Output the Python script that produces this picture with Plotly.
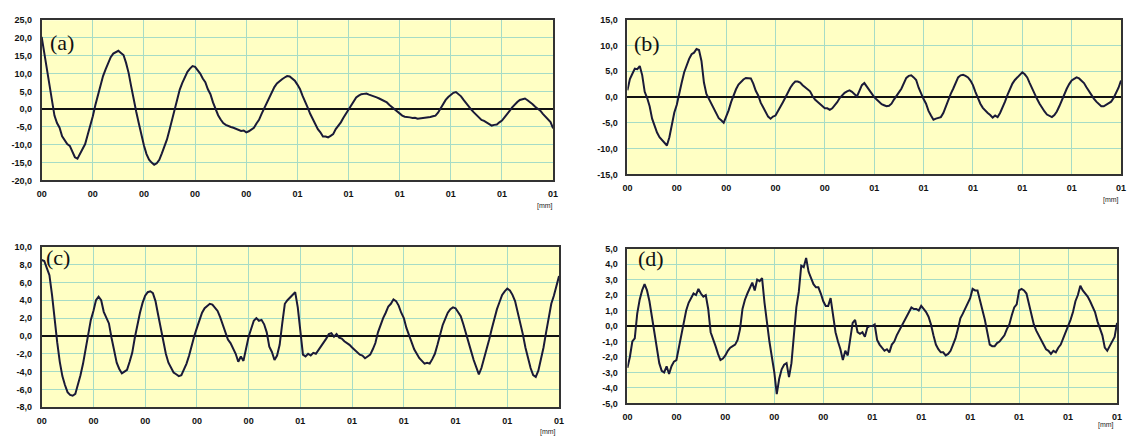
import plotly.graph_objects as go

# x positions in grid units (0..10, step 0.05)
x_pos = [i / 20 for i in range(201)]

y_a = [20.3, 16.0, 11.5, 6.5, 2.0, -1.8, -3.9, -5.2, -7.6, -8.6,
       -9.8, -10.3, -12.0, -13.5, -13.9, -12.5, -11.4, -9.8, -7.2, -4.8,
       -2.0, 1.2, 4.2, 6.6, 9.3, 11.2, 12.9, 14.6, 15.6, 15.9,
       16.4, 15.8, 15.2, 13.0, 10.2, 6.4, 2.5, -0.8, -4.0, -7.4,
       -10.2, -12.6, -14.2, -15.0, -15.6, -15.2, -14.2, -12.4, -10.6, -8.5,
       -5.8, -2.9, 0.0, 3.2, 5.5, 7.4, 8.9, 10.5, 11.4, 12.1,
       11.9, 11.0, 10.0, 8.6, 7.6, 5.6, 4.2, 1.9, 0.0, -1.7,
       -2.9, -3.9, -4.4, -4.8, -5.0, -5.2, -5.5, -5.6, -6.1, -6.0,
       -6.5, -6.2, -5.6, -5.2, -4.0, -3.0, -1.3, 0.2, 1.6, 3.3,
       4.8, 6.2, 7.2, 7.9, 8.4, 8.9, 9.3, 9.2, 8.6, 8.0,
       6.9, 5.7, 3.8, 2.3, 0.5, -1.3, -2.8, -4.2, -5.6, -6.5,
       -7.7, -7.7, -7.9, -7.5, -7.0, -5.6, -4.8, -3.7, -2.4, -1.3,
       -0.1, 1.0, 2.2, 3.3, 3.8, 4.2, 4.3, 4.4, 4.1, 3.9,
       3.5, 3.3, 3.0, 2.6, 2.2, 1.9, 1.2, 0.6, -0.1, -0.6,
       -1.4, -1.8, -2.1, -2.1, -2.3, -2.5, -2.4, -2.7, -2.6, -2.7,
       -2.4, -2.5, -2.2, -2.0, -1.8, -1.0, 0.3, 1.6, 2.6, 3.4,
       4.0, 4.6, 4.8, 4.2, 3.6, 2.6, 1.6, 0.8, -0.1, -0.9,
       -1.6, -2.5, -3.0, -3.3, -3.8, -4.3, -4.6, -4.4, -4.3, -3.7,
       -3.2, -2.3, -1.5, -0.5, 0.5, 1.4, 2.0, 2.6, 2.8, 3.0,
       2.5, 2.0, 1.4, 0.7, 0.2, -0.4, -1.3, -2.1, -3.0, -3.6,
       -5.4]

y_b = [1.3, 3.5, 4.5, 5.5, 5.4, 6.0, 4.2, 1.0, -0.2, -1.8,
       -4.2, -5.6, -6.9, -7.8, -8.4, -9.0, -9.4, -7.8, -5.4, -3.0,
       -1.5, 0.4, 2.8, 4.8, 6.2, 7.4, 8.3, 8.6, 9.3, 9.1,
       7.0, 2.8, 0.6, -0.4, -1.2, -2.3, -3.2, -4.1, -4.5, -5.0,
       -3.8, -2.6, -1.0, 0.4, 1.5, 2.4, 3.0, 3.4, 3.7, 3.6,
       3.6, 2.6, 1.2, 0.3, -1.1, -2.0, -3.0, -3.8, -4.2, -3.8,
       -3.6, -2.8, -2.0, -1.0, -0.1, 0.9, 1.8, 2.5, 3.0, 3.0,
       2.8, 2.3, 1.9, 1.6, 1.1, 0.2, -0.5, -0.9, -1.3, -1.8,
       -2.2, -2.2, -2.5, -2.2, -1.7, -1.0, -0.2, 0.4, 0.8, 1.1,
       1.3, 1.0, 0.6, 0.1, 1.2, 2.3, 2.7, 2.0, 1.3, 0.5,
       0.0, -0.5, -1.0, -1.4, -1.6, -1.8, -1.7, -1.3, -0.5, 0.3,
       0.9, 1.6, 2.6, 3.7, 4.1, 4.2, 3.8, 3.3, 1.8, 0.5,
       -0.4, -1.3, -2.7, -3.6, -4.4, -4.2, -4.0, -3.9, -3.1, -1.8,
       -0.6, 0.6, 1.6, 2.8, 3.8, 4.2, 4.3, 4.1, 3.8, 3.2,
       2.3, 1.0, -0.3, -1.3, -2.1, -2.7, -3.1, -3.5, -4.0, -3.6,
       -3.9, -3.1, -2.1, -0.9, 0.4, 1.6, 2.6, 3.3, 3.8, 4.2,
       4.8, 4.4, 3.8, 2.7, 1.6, 0.6, -0.4, -1.3, -2.1, -2.8,
       -3.4, -3.6, -3.9, -3.5, -2.8, -1.8, -0.6, 0.5, 1.6, 2.5,
       3.2, 3.5, 3.8, 3.6, 3.2, 2.7, 1.9, 1.1, 0.4, -0.3,
       -0.9, -1.4, -1.8, -1.8, -1.5, -1.3, -0.9, -0.2, 0.7, 1.8,
       3.2]

y_c = [8.5, 8.4, 7.6, 6.8, 4.6, 1.6, -0.7, -2.9, -4.5, -5.5,
       -6.3, -6.6, -6.7, -6.5, -5.5, -4.4, -3.1, -1.6, 0.1, 1.8,
       2.8, 4.0, 4.4, 4.0, 2.7, 2.0, 1.4, -0.2, -1.8, -3.0,
       -3.7, -4.2, -4.0, -3.8, -2.9, -1.9, -0.2, 1.4, 2.6, 3.7,
       4.5, 4.9, 5.0, 4.8, 3.9, 2.4, 0.9, -0.7, -2.0, -3.0,
       -3.5, -4.1, -4.3, -4.5, -4.4, -3.8, -3.1, -2.2, -1.0, 0.0,
       0.9, 1.9, 2.6, 3.1, 3.3, 3.6, 3.5, 3.2, 2.8, 2.1,
       1.2, 0.3, -0.4, -0.8, -1.4, -2.0, -2.9, -2.3, -2.8, -1.4,
       -0.1, 0.8, 1.7, 2.0, 1.7, 1.8, 1.3, 0.4, -1.2, -1.8,
       -2.7, -2.2, -1.0, 1.4, 3.6, 4.0, 4.3, 4.5, 4.9, 3.2,
       0.5, -2.1, -2.3, -2.0, -2.2, -1.9, -2.0, -1.6, -1.2, -0.8,
       -0.3, 0.2, 0.3, -0.1, 0.2, -0.2, -0.3, -0.6, -0.8, -1.0,
       -1.3, -1.6, -1.9, -2.1, -2.2, -2.5, -2.3, -2.1, -1.5, -0.8,
       0.4, 1.3, 2.0, 2.6, 3.3, 3.6, 4.1, 3.9, 3.4, 2.6,
       2.0, 0.9, 0.1, -0.8, -1.5, -2.0, -2.5, -2.8, -3.1, -3.0,
       -3.1, -2.6, -2.0, -1.0, 0.1, 1.2, 1.9, 2.6, 3.0, 3.2,
       3.1, 2.7, 2.2, 1.3, 0.2, -0.8, -1.7, -2.7, -3.5, -4.3,
       -3.6, -2.6, -1.6, -0.4, 0.8, 2.0, 3.0, 3.8, 4.6, 5.0,
       5.3, 5.1, 4.6, 3.9, 2.7, 1.5, 0.2, -1.3, -2.5, -3.6,
       -4.4, -4.6, -3.9, -2.6, -1.3, 0.4, 2.2, 3.6, 4.5, 5.5,
       6.7]

y_d = [-2.7, -2.0, -1.0, -0.8, 0.8, 1.7, 2.3, 2.7, 2.3, 1.6,
       0.6, -0.4, -1.5, -2.4, -2.9, -3.0, -2.6, -3.1, -2.6, -2.3,
       -2.2, -1.4, -0.5, 0.1, 1.0, 1.5, 1.8, 2.1, 2.0, 2.4,
       2.1, 1.9, 2.0, 1.1, -0.4, -0.8, -1.3, -1.8, -2.2, -2.1,
       -1.9, -1.6, -1.4, -1.3, -1.2, -0.9, -0.2, 1.1, 1.7, 2.1,
       2.4, 2.8, 2.3, 3.0, 2.9, 3.1, 1.5, 0.1, -1.0, -2.0,
       -3.0, -4.4, -3.4, -2.8, -2.5, -2.4, -3.3, -2.4, -0.4, 1.2,
       2.2, 3.9, 3.8, 4.4, 3.5, 3.1, 2.7, 2.5, 2.5, 2.1,
       1.6, 1.3, 1.3, 1.8, 0.7, -0.4, -1.0, -1.5, -2.2, -1.6,
       -1.9, -0.8, 0.2, 0.4, -0.4, -0.5, -0.4, -0.7, -0.1, 0.0,
       0.0, 0.1, -0.9, -1.2, -1.4, -1.6, -1.5, -1.7, -1.2, -1.0,
       -0.6, -0.3, 0.0, 0.3, 0.6, 0.9, 1.2, 1.1, 1.1, 1.0,
       1.3, 1.1, 0.9, 0.6, 0.1, -0.6, -1.2, -1.5, -1.7, -1.7,
       -1.9, -1.8, -1.6, -1.2, -0.8, -0.2, 0.5, 0.8, 1.1, 1.5,
       1.8, 2.4, 2.3, 2.3, 1.7, 1.1, 0.4, -0.4, -1.2, -1.3,
       -1.3, -1.1, -1.0, -0.8, -0.6, -0.2, 0.1, 0.7, 1.2, 1.4,
       2.3, 2.4, 2.3, 2.1, 1.4, 0.8, 0.1, -0.3, -0.6, -0.9,
       -1.3, -1.5, -1.6, -1.8, -1.6, -1.7, -1.4, -1.2, -0.8, -0.4,
       -0.1, 0.4, 0.9, 1.6, 2.0, 2.6, 2.3, 2.1, 1.9, 1.6,
       1.2, 0.9, 0.3, -0.2, -0.6, -1.4, -1.6, -1.3, -1.0, -0.7,
       0.2]

x_tickvals = list(range(11))
x_ticktext = ["00", "00", "00", "00", "00", "01", "01", "01", "01", "01", "01"]

yt_a = [-20, -15, -10, -5, 0, 5, 10, 15, 20, 25]
yl_a = ["-20,0", "-15,0", "-10,0", "-5,0", "0,0", "5,0", "10,0", "15,0", "20,0", "25,0"]
yt_b = [-15, -10, -5, 0, 5, 10, 15]
yl_b = ["-15,0", "-10,0", "-5,0", "0,0", "5,0", "10,0", "15,0"]
yt_c = [-8, -6, -4, -2, 0, 2, 4, 6, 8, 10]
yl_c = ["-8,0", "-6,0", "-4,0", "-2,0", "0,0", "2,0", "4,0", "6,0", "8,0", "10,0"]
yt_d = [-5, -4, -3, -2, -1, 0, 1, 2, 3, 4, 5]
yl_d = ["-5,0", "-4,0", "-3,0", "-2,0", "-1,0", "0,0", "1,0", "2,0", "3,0", "4,0", "5,0"]

panel_names = ["(a)", "(b)", "(c)", "(d)"]

W, H = 1127, 439
BG = "#ffffc4"
GRID = "#a6dcc6"
LINE = "#1a1a38"
TICKFONT = dict(family="Liberation Sans, Arial", size=9, color="#111111",
                weight="bold")

# panel pixel boxes: left, right, top, bottom
boxes = [(37, 553, 15.5, 179.5), (628, 1126, 15, 173.3),
         (37, 559, 247.3, 411.7), (628, 1122, 249.3, 407.7)]
ydata = [y_a, y_b, y_c, y_d]
yticks = [(yt_a, yl_a), (yt_b, yl_b), (yt_c, yl_c), (yt_d, yl_d)]
mm_pos = [(545, 206), (1116, 200), (548, 437), (1111, 430)]
lab_pos = [(43, 38), (633, 39), (39, 258), (637, 259)]

fig = go.Figure()
shapes = []
annotations = []
for i in range(4):
    l, r, t, b = boxes[i]
    xd = [l / W, r / W]
    yd = [1 - b / H, 1 - t / H]
    tv, tl = yticks[i]
    sx = "" if i == 0 else str(i + 1)
    xa = "x" + sx
    ya = "y" + sx
    fig.add_trace(go.Scatter(x=x_pos, y=ydata[i], mode="lines",
                             line=dict(color=LINE, width=2),
                             xaxis=xa, yaxis=ya, showlegend=False,
                             hoverinfo="skip"))
    fig.layout["xaxis" + sx] = dict(domain=xd, anchor=ya, range=[0, 10],
                                    tickvals=x_tickvals, ticktext=x_ticktext,
                                    showgrid=True, gridcolor=GRID, gridwidth=1,
                                    zeroline=False, showline=True, mirror=True,
                                    linecolor="#333333", linewidth=1.5,
                                    ticks="", ticklabelstandoff=4,
                                    tickfont=TICKFONT, fixedrange=True)
    fig.layout["yaxis" + sx] = dict(domain=yd, anchor=xa,
                                    range=[tv[0], tv[-1]],
                                    tickvals=tv, ticktext=tl,
                                    showgrid=True, gridcolor=GRID, gridwidth=1,
                                    zeroline=True, zerolinecolor="#111111",
                                    zerolinewidth=1.5,
                                    showline=True, mirror=True,
                                    linecolor="#333333", linewidth=1.5,
                                    ticks="", ticklabelstandoff=6,
                                    tickfont=TICKFONT, fixedrange=True)
    # small tick marks on the zero line (overlay axis positioned at y = 0)
    zpos = yd[0] + (0 - tv[0]) / (tv[-1] - tv[0]) * (yd[1] - yd[0])
    ox = "xaxis" + str(5 + i)
    fig.layout[ox] = dict(overlaying=xa, anchor="free", position=zpos,
                          domain=xd, range=[0, 10], tickvals=x_tickvals,
                          ticks="inside", ticklen=3, tickwidth=1,
                          tickcolor="#333333", showticklabels=False,
                          showgrid=False, showline=False, zeroline=False,
                          fixedrange=True)
    shapes.append(dict(type="rect", xref=xa + " domain", yref=ya + " domain",
                       x0=0, x1=1, y0=0, y1=1, fillcolor=BG,
                       line=dict(width=0), layer="below"))
    lx, ly = lab_pos[i]
    annotations.append(dict(text=panel_names[i], x=lx / W, y=1 - ly / H,
                            xref="paper", yref="paper", xanchor="left",
                            yanchor="middle", showarrow=False,
                            font=dict(family="Liberation Serif, Times New Roman",
                                      size=22, color="#111111")))
    mx, my = mm_pos[i]
    annotations.append(dict(text="[mm]", x=mx / W, y=1 - my / H,
                            xref="paper", yref="paper", xanchor="center",
                            yanchor="middle", showarrow=False,
                            font=dict(family="Liberation Sans, Arial", size=7,
                                      color="#222222")))

fig.update_layout(width=W, height=H, autosize=False,
                  margin=dict(l=0, r=0, t=0, b=0),
                  paper_bgcolor="white", plot_bgcolor="rgba(0,0,0,0)",
                  shapes=shapes, annotations=annotations, showlegend=False)
fig.write_html("out.html", config={"displayModeBar": False})
